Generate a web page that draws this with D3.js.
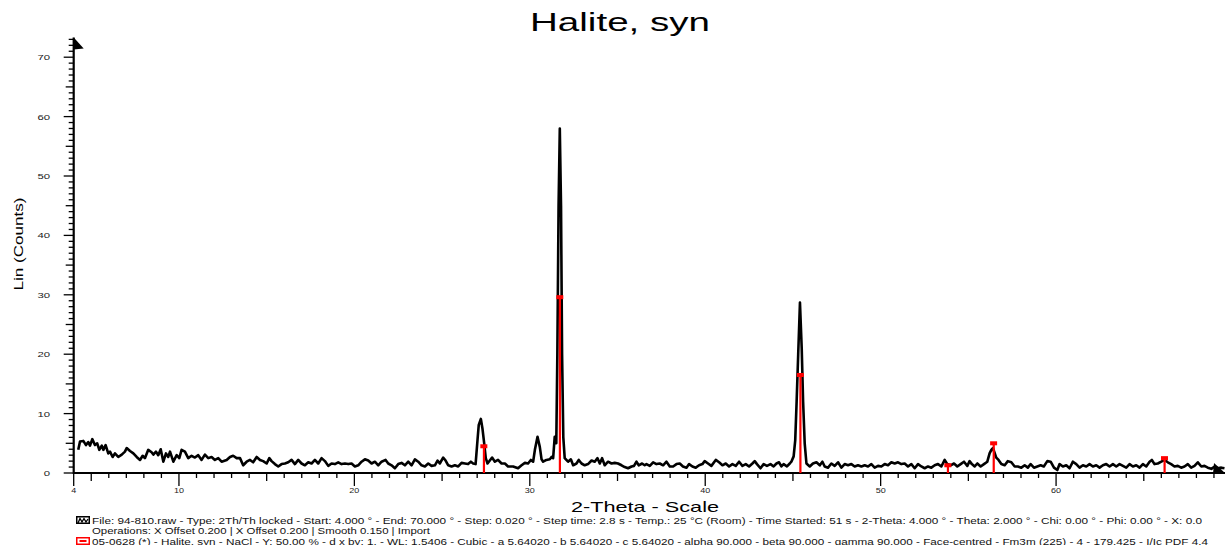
<!DOCTYPE html>
<html>
<head>
<meta charset="utf-8">
<script src="https://cdn.jsdelivr.net/npm/d3@7"></script>
<style>
  body { margin: 0; background: #fff; }
  svg { display: block; font-family: "Liberation Sans", Arial, sans-serif; }
</style>
</head>
<body>
<svg id="chart" width="1225" height="545"></svg>
<script>
// chart texts
var title = "Halite, syn";
var xLabel = "2-Theta - Scale";
var yLabel = "Lin (Counts)";
var xTickLabels = [4, 10, 20, 30, 40, 50, 60];
var yTickLabels = [0, 10, 20, 30, 40, 50, 60, 70];

var scan = [
  [4.26,3.9],[4.36,5.3],[4.55,5.4],[4.70,4.7],[4.83,5.2],[4.93,4.6],[5.06,5.7],[5.21,4.7],[5.34,5.0],[5.46,3.9],
  [5.60,4.6],[5.69,3.9],[5.82,4.7],[5.97,3.3],[6.07,3.6],[6.22,2.7],[6.35,3.3],[6.54,2.7],[6.74,3.1],[6.92,3.6],
  [7.02,4.2],[7.21,3.7],[7.40,3.3],[7.59,2.7],[7.78,2.2],[7.93,2.9],[8.06,2.5],[8.25,3.9],[8.44,3.5],[8.54,3.1],
  [8.69,3.6],[8.82,3.0],[8.96,4.0],[9.11,1.9],[9.26,3.3],[9.39,2.7],[9.49,3.6],[9.68,1.9],[9.87,3.0],[10.02,2.5],
  [10.15,3.9],[10.34,3.6],[10.53,2.5],[10.72,2.9],[10.91,2.6],[11.10,3.0],[11.29,2.2],[11.48,3.1],[11.67,2.5],[11.86,2.7],
  [12.05,2.2],[12.24,2.5],[12.43,1.9],[12.72,2.2],[12.91,2.7],[13.09,2.9],[13.29,2.5],[13.48,2.5],[13.66,1.3],[13.86,1.9],
  [14.05,2.2],[14.23,1.8],[14.43,2.7],[14.62,2.2],[14.80,2.0],[15.00,1.6],[15.15,2.5],[15.28,2.0],[15.47,1.5],[15.66,1.1],
  [15.85,1.5],[16.04,1.6],[16.23,1.8],[16.42,2.2],[16.61,1.5],[16.80,2.2],[16.99,1.6],[17.18,1.3],[17.37,1.8],[17.56,1.6],
  [17.75,2.2],[17.94,1.6],[18.13,2.5],[18.32,2.0],[18.51,1.2],[18.70,1.6],[18.89,1.5],[19.08,1.8],[19.27,1.5],[19.46,1.6],
  [19.65,1.5],[19.84,1.6],[20.03,1.1],[20.22,1.3],[20.41,1.9],[20.60,2.3],[20.79,2.1],[20.98,1.6],[21.17,1.9],[21.36,1.3],
  [21.55,1.9],[21.78,2.2],[21.93,1.6],[22.12,1.3],[22.31,0.8],[22.50,1.5],[22.69,1.7],[22.88,1.3],[23.07,1.9],[23.26,1.3],
  [23.45,2.3],[23.64,1.9],[23.83,1.3],[24.02,1.1],[24.21,1.6],[24.40,1.2],[24.59,1.3],[24.74,2.1],[24.87,1.6],[25.06,2.6],
  [25.20,2.1],[25.35,1.3],[25.54,1.1],[25.73,1.3],[25.92,1.1],[26.11,1.7],[26.30,1.6],[26.48,1.5],[26.64,1.9],[26.77,1.6],
  [26.91,1.5],[27.02,5.6],[27.09,8.1],[27.21,9.1],[27.30,7.5],[27.40,5.0],[27.49,2.5],[27.59,1.6],[27.72,2.1],[27.85,2.6],
  [28.01,1.9],[28.19,2.2],[28.39,1.6],[28.58,1.6],[28.76,1.1],[29.05,1.1],[29.33,0.8],[29.53,1.3],[29.72,1.7],[29.90,1.6],
  [30.06,2.2],[30.19,1.9],[30.29,3.9],[30.44,6.1],[30.57,4.4],[30.67,2.3],[30.76,1.9],[30.95,2.2],[31.14,2.3],[31.24,2.7],
  [31.33,2.5],[31.42,6.1],[31.51,5.0],[31.57,20],[31.64,45],[31.71,58],[31.78,45],[31.84,20],[31.91,6.0],[31.99,2.5],
  [32.18,1.9],[32.34,2.3],[32.47,1.3],[32.66,1.6],[32.79,2.2],[32.95,1.6],[33.13,1.3],[33.32,1.5],[33.52,2.1],[33.70,1.9],
  [33.86,2.5],[33.99,1.6],[34.12,2.5],[34.27,1.3],[34.46,1.9],[34.66,1.6],[34.84,1.7],[35.03,1.6],[35.23,1.3],[35.41,1.0],
  [35.60,0.8],[35.80,1.1],[35.94,1.2],[36.08,1.9],[36.21,1.3],[36.40,1.6],[36.55,1.3],[36.65,1.5],[36.84,1.2],[37.03,1.8],
  [37.22,1.5],[37.41,1.6],[37.60,1.3],[37.79,1.9],[37.98,1.1],[38.17,1.1],[38.36,1.5],[38.55,1.6],[38.73,1.1],[38.93,0.9],
  [39.08,1.5],[39.27,1.1],[39.46,0.9],[39.65,1.3],[39.84,1.5],[39.97,2.0],[40.16,1.6],[40.35,1.2],[40.60,2.2],[40.79,1.8],
  [40.98,1.3],[41.17,1.6],[41.36,1.1],[41.55,1.5],[41.74,1.2],[41.93,1.9],[42.12,1.2],[42.31,1.5],[42.50,1.1],[42.69,1.6],
  [42.82,2.0],[42.95,1.5],[43.15,0.8],[43.33,1.5],[43.52,1.2],[43.72,1.5],[43.90,1.1],[44.06,1.6],[44.21,1.8],[44.34,1.1],
  [44.47,1.5],[44.66,1.1],[44.82,1.6],[44.91,1.9],[45.04,2.8],[45.13,5.5],[45.21,12],[45.30,20],[45.40,28.7],[45.50,21],
  [45.58,12],[45.67,5.0],[45.77,1.6],[45.96,1.1],[46.14,1.6],[46.34,1.8],[46.53,1.3],[46.68,1.9],[46.81,1.1],[47.00,0.9],
  [47.19,1.6],[47.38,1.2],[47.57,1.8],[47.76,0.9],[47.95,1.5],[48.14,1.3],[48.33,1.5],[48.52,1.1],[48.71,1.3],[48.90,1.1],
  [49.09,1.3],[49.28,1.1],[49.47,1.5],[49.66,0.9],[49.85,1.2],[50.04,1.1],[50.23,1.5],[50.42,1.3],[50.61,1.8],[50.80,1.6],
  [50.99,1.8],[51.18,1.5],[51.37,1.6],[51.56,1.1],[51.75,1.5],[51.94,0.8],[52.13,1.5],[52.32,1.1],[52.51,0.8],[52.70,1.1],
  [52.89,0.9],[53.08,1.3],[53.27,1.5],[53.46,1.1],[53.65,2.2],[53.80,1.5],[53.99,1.3],[54.18,1.6],[54.37,1.1],[54.56,1.5],
  [54.75,1.9],[54.94,1.2],[55.07,2.0],[55.20,1.5],[55.36,1.1],[55.51,1.6],[55.70,1.1],[55.89,1.5],[56.08,1.9],[56.21,3.3],
  [56.31,3.9],[56.40,4.2],[56.59,2.6],[56.72,2.2],[56.88,1.5],[57.07,1.3],[57.25,2.0],[57.45,1.8],[57.64,1.1],[57.82,1.1],
  [58.02,0.9],[58.21,1.3],[58.39,0.9],[58.55,1.5],[58.74,0.9],[58.93,1.1],[59.12,1.3],[59.30,1.1],[59.50,2.0],[59.69,1.9],
  [59.88,0.9],[60.07,0.5],[60.20,1.5],[60.39,1.1],[60.58,1.3],[60.77,0.8],[60.96,1.9],[61.15,1.5],[61.34,0.9],[61.53,1.3],
  [61.72,1.1],[61.91,1.5],[62.10,1.1],[62.29,1.3],[62.48,0.9],[62.67,1.3],[62.86,1.5],[63.05,1.1],[63.24,1.5],[63.43,1.1],
  [63.62,1.5],[63.81,1.2],[64.00,0.9],[64.19,1.5],[64.38,1.1],[64.57,1.3],[64.76,0.9],[64.95,1.5],[65.14,1.1],[65.33,1.9],
  [65.46,2.2],[65.61,1.5],[65.80,1.6],[66.00,1.9],[66.18,2.2],[66.37,1.8],[66.56,1.5],[66.75,1.1],[66.94,1.2],[67.13,0.9],
  [67.32,1.1],[67.51,1.5],[67.70,0.9],[67.89,1.2],[68.08,1.8],[68.28,1.1],[68.46,1.2],[68.65,0.9],[68.85,0.7],[69.04,1.1],
  [69.22,0.8],[69.42,0.9],[69.60,0.8]
];

// reference pattern 05-0628 (Halite) sticks, scaled Y 50 %
var refTheta  = [27.38, 31.71, 45.42, 53.83, 56.44, 66.18];
var refCounts = [4.5, 29.6, 16.5, 1.3, 5.0, 2.5];

var legendLines = [
  "File: 94-810.raw - Type: 2Th/Th locked - Start: 4.000 \u00b0 - End: 70.000 \u00b0 - Step: 0.020 \u00b0 - Step time: 2.8 s - Temp.: 25 \u00b0C (Room) - Time Started: 51 s - 2-Theta: 4.000 \u00b0 - Theta: 2.000 \u00b0 - Chi: 0.00 \u00b0 - Phi: 0.00 \u00b0 - X: 0.0",
  "Operations: X Offset 0.200 | X Offset 0.200 | Smooth 0.150 | Import",
  "05-0628 (*) - Halite, syn - NaCl - Y: 50.00 % - d x by: 1. - WL: 1.5406 - Cubic - a 5.64020 - b 5.64020 - c 5.64020 - alpha 90.000 - beta 90.000 - gamma 90.000 - Face-centred - Fm3m (225) - 4 - 179.425 - I/Ic PDF 4.4"
];

var svg = d3.select("#chart");
var W = 1225;

var x = d3.scaleLinear().domain([4, 70]).range([73.7, 1231.5]);
var y = d3.scaleLinear().domain([0, 70]).range([473, 57.2]);

// the fonts in the original are wide, so stretch texts to the measured length
function stretch(sel, len) {
  sel.attr("textLength", len).attr("lengthAdjust", "spacingAndGlyphs");
  return sel;
}

// title and axis names
stretch(svg.append("text").attr("x", 620).attr("y", 31)
  .attr("text-anchor", "middle").attr("font-size", 26).text(title), 180);

stretch(svg.append("text").attr("x", 645).attr("y", 512)
  .attr("text-anchor", "middle").attr("font-size", 15).text(xLabel), 148);

stretch(svg.append("text").attr("transform", "translate(23,244) rotate(-90)")
  .attr("text-anchor", "middle").attr("font-size", 12.5).text(yLabel), 93);

// ticks
var ax = svg.append("g").attr("stroke", "#000");
var xMinor = d3.range(4, 70, 1);
ax.selectAll("line.xt").data(xMinor).enter().append("line")
  .attr("x1", function(d){ return x(d); }).attr("x2", function(d){ return x(d); })
  .attr("y1", y(0))
  .attr("y2", function(d){ return y(0) + (d % 10 == 0 || d == 4 ? 13 : d % 5 == 0 ? 8 : 5); })
  .attr("stroke-width", 1.3);

var yMinor = d3.range(0, 74, 1);
ax.selectAll("line.yt").data(yMinor).enter().append("line")
  .attr("y1", function(d){ return y(d); }).attr("y2", function(d){ return y(d); })
  .attr("x1", x(4))
  .attr("x2", function(d){ return x(4) - (d % 10 == 0 ? 10 : d % 5 == 0 ? 8 : 5); })
  .attr("stroke-width", 1.3);

// axis lines with the arrow heads
var x0 = x(4), y0 = y(0), yTop = y(73.3);
svg.append("line").attr("x1", x0).attr("x2", x0).attr("y1", y0 + 1).attr("y2", yTop)
  .attr("stroke", "#000").attr("stroke-width", 2.2);
svg.append("line").attr("x1", x0).attr("x2", W).attr("y1", y0).attr("y2", y0)
  .attr("stroke", "#000").attr("stroke-width", 2.2);
svg.append("path").attr("d", "M" + x0 + "," + yTop + "L" + (x0 + 10) + "," + (yTop + 11) + "L" + x0 + "," + (yTop + 12) + "Z");
svg.append("path").attr("d", "M" + W + "," + y0 + "L" + (W - 11) + "," + (y0 - 10) + "L" + (W - 12) + "," + (y0 + 1) + "Z");

// tick labels
svg.append("g").selectAll("text").data(xTickLabels).enter().append("text")
  .attr("x", function(d){ return x(d); }).attr("y", 493)
  .attr("text-anchor", "middle").attr("font-size", 7.5).attr("fill", "#222")
  .attr("textLength", function(d){ return String(d).length * 5; })
  .attr("lengthAdjust", "spacingAndGlyphs")
  .text(function(d){ return d; });

svg.append("g").selectAll("text").data(yTickLabels).enter().append("text")
  .attr("x", 50).attr("y", function(d){ return y(d) + 3; })
  .attr("text-anchor", "end").attr("font-size", 7.5).attr("fill", "#222")
  .attr("textLength", function(d){ return String(d).length * 6.3; })
  .attr("lengthAdjust", "spacingAndGlyphs")
  .text(function(d){ return d; });

// scan line
var line = d3.line().x(function(d){ return x(d[0]); }).y(function(d){ return y(d[1]); });
svg.append("path").datum(scan).attr("d", line)
  .attr("fill", "none").attr("stroke", "#000").attr("stroke-width", 2.6)
  .attr("stroke-linejoin", "round");

// reference sticks
var sticks = svg.append("g").attr("fill", "#ff0000");
refTheta.forEach(function(t, i) {
  sticks.append("rect").attr("x", x(t) - 1).attr("y", y(refCounts[i]))
    .attr("width", 2.2).attr("height", y(0) - y(refCounts[i]));
  sticks.append("rect").attr("x", x(t) - 3.5).attr("y", y(refCounts[i]) - 2)
    .attr("width", 7).attr("height", 4);
});

// legend
var lg = svg.append("g");
lg.append("rect").attr("x", 76).attr("y", 516).attr("width", 14).attr("height", 8).attr("fill", "#000");
lg.append("rect").attr("x", 77.5).attr("y", 517.5).attr("width", 11).attr("height", 5).attr("fill", "#fff");
lg.append("polyline").attr("points", "78,523 80,518.5 82,522 84,518.5 86,522 88,519")
  .attr("fill", "none").attr("stroke", "#000").attr("stroke-width", 1.3);
lg.append("rect").attr("x", 76).attr("y", 537).attr("width", 14).attr("height", 8).attr("fill", "#ff0000");
lg.append("rect").attr("x", 77.5).attr("y", 538.5).attr("width", 11).attr("height", 5).attr("fill", "#fff");
lg.append("rect").attr("x", 79.5).attr("y", 540).attr("width", 7).attr("height", 2).attr("fill", "#ff0000");

var legendY = [524, 534, 544.5];
var legendLen = [1110, 338, 1116];
legendLines.forEach(function(s, i) {
  stretch(lg.append("text").attr("x", 92).attr("y", legendY[i])
    .attr("font-size", 8.5).attr("fill", "#111").text(s), legendLen[i]);
});
</script>
</body>
</html>
